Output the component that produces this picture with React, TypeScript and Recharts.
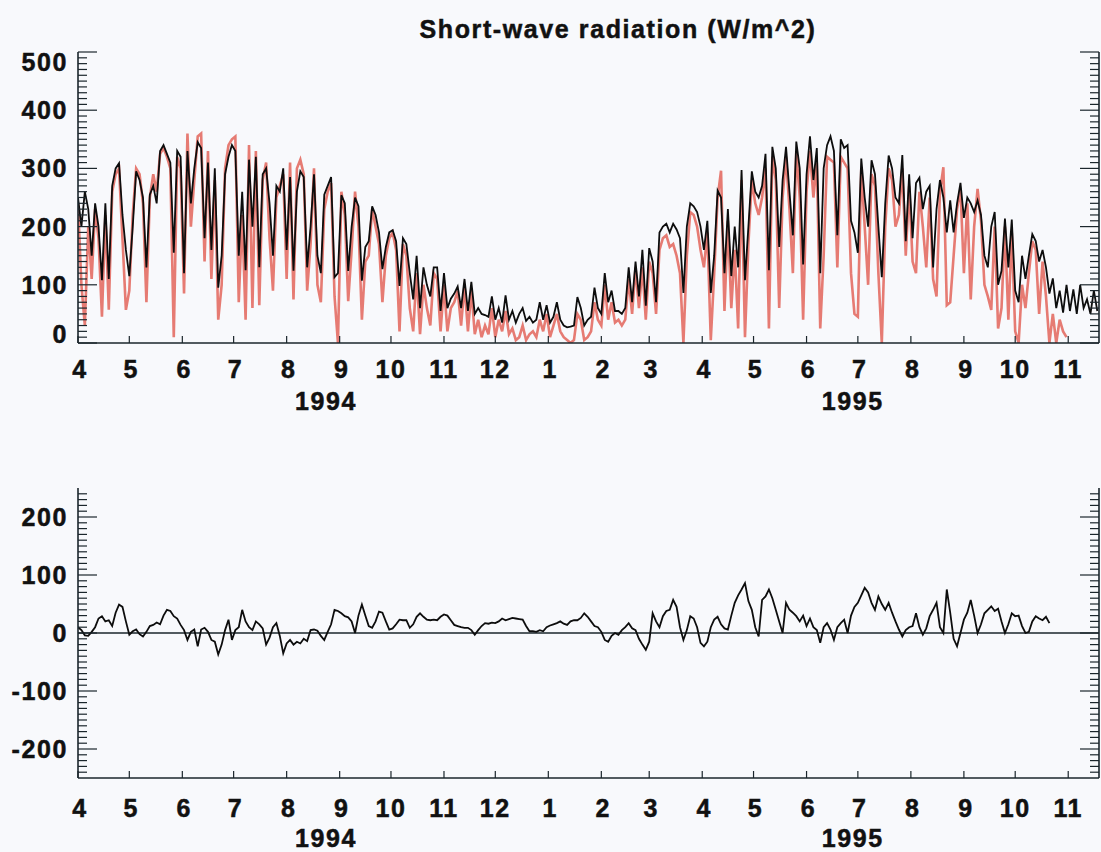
import React from 'react';
import { LineChart, Line, XAxis, YAxis, ReferenceLine } from 'recharts';

const FONT = '"Liberation Sans", Arial, Helvetica, sans-serif';
const INK = '#1b262c';
const TEXT = '#111111';
const BG = '#f8f9fc';

// one sample every 2 days, day 0 = 1 Apr 1994
const STEP = 2;
const LAST_DAY = 597;

const monthTicks = [0, 30, 61, 91, 122, 153, 183, 214, 244, 275, 306, 334, 365, 395, 426, 456, 487, 518, 548, 579];
const monthLabels = ['4', '5', '6', '7', '8', '9', '10', '11', '12', '1', '2', '3', '4', '5', '6', '7', '8', '9', '10', '11'];
const yearTicks = [145, 453];
const yearLabels = ['1994', '1995'];

const topMajor = [0, 100, 200, 300, 400, 500];
const bottomMajor = [-200, -100, 0, 100, 200];

// short-wave radiation, black curve (W/m^2)
const blackSW = [
  250, 200, 260, 230, 150, 240, 200, 108, 240, 110, 270, 300, 309, 220, 160,
  115, 200, 295, 280, 250, 130, 255, 270, 240, 330, 340, 325, 310, 155, 330,
  320, 120, 330, 240, 300, 345, 335, 180, 310, 160, 300, 95, 150, 290, 320,
  340, 330, 150, 260, 125, 315, 200, 320, 130, 290, 300, 240, 150, 270, 260,
  300, 160, 285, 124, 260, 295, 285, 130, 200, 290, 150, 120, 255, 270, 285,
  113, 120, 254, 240, 124, 200, 250, 235, 107, 165, 175, 235, 220, 190, 127,
  165, 190, 194, 175, 98, 180, 170, 120, 75, 150, 60, 130, 100, 80, 130,
  130, 55, 120, 60, 76, 85, 97, 60, 110, 55, 105, 50, 60, 50, 48,
  45, 80, 40, 60, 35, 82, 40, 55, 35, 50, 60, 38, 45, 35, 40,
  70, 40, 65, 35, 45, 70, 40, 30, 27, 28, 30, 79, 60, 30, 40,
  45, 95, 60, 50, 120, 70, 90, 55, 55, 50, 60, 130, 70, 140, 80,
  160, 64, 163, 140, 70, 190, 200, 205, 190, 205, 195, 180, 86, 200, 240,
  235, 225, 200, 160, 210, 86, 150, 262, 250, 120, 230, 115, 200, 130, 297,
  108, 200, 295, 260, 250, 270, 325, 125, 337, 300, 165, 280, 337, 260, 185,
  346, 300, 135, 290, 355, 280, 335, 120, 300, 340, 355, 330, 185, 350, 335,
  340, 210, 190, 155, 317, 250, 200, 314, 290, 200, 113, 240, 322, 300, 250,
  240, 323, 175, 290, 180, 275, 284, 230, 260, 270, 130, 230, 280, 250, 190,
  245, 190, 240, 275, 215, 250, 240, 225, 245, 220, 150, 130, 200, 225, 100,
  124, 214, 130, 212, 90, 70, 150, 110, 150, 187, 175, 140, 160, 130, 85,
  111, 60, 90, 52, 100, 55, 92, 50, 100, 60, 75, 50, 90, 55,
];

// short-wave radiation, red curve (W/m^2), ends late Oct 1995
const redSW = [
  240, 100, 30, 200, 110, 230, 180, 45, 220, 57, 260, 290, 300, 180, 57,
  90, 220, 300, 290, 240, 70, 250, 290, 260, 325, 335, 320, 300, 10, 320,
  300, 85, 360, 200, 280, 355, 360, 140, 330, 110, 280, 40, 100, 300, 340,
  350, 355, 70, 220, 40, 340, 60, 330, 65, 280, 310, 180, 90, 250, 270,
  290, 110, 310, 75, 300, 315, 290, 90, 170, 300, 100, 70, 230, 260, 275,
  80, 0, 260, 220, 72, 160, 260, 200, 40, 140, 150, 230, 200, 170, 70,
  150, 180, 190, 160, 20, 170, 150, 60, 20, 120, 15, 100, 60, 30, 120,
  110, 20, 100, 20, 60, 70, 90, 30, 100, 20, 90, 15, 40, 10, 30,
  15, 60, 10, 40, 20, 55, 15, 25, 5, 10, 30, 5, 15, 20, 10,
  40, 20, 50, 10, 30, 50, 20, 10, 5, 0, 5, 50, 40, 5, 10,
  20, 70, 40, 30, 100, 40, 70, 35, 40, 30, 40, 110, 50, 130, 60,
  130, 40, 140, 120, 50, 160, 180, 185, 165, 170, 150, 120, 0, 150, 225,
  220, 200, 160, 130, 190, 5, 120, 250, 296, 55, 210, 60, 160, 25, 280,
  10, 170, 280, 240, 220, 250, 300, 25, 320, 280, 60, 250, 320, 230, 120,
  330, 250, 40, 260, 330, 250, 310, 25, 150, 320, 315, 310, 130, 320, 310,
  300, 120, 50, 45, 300, 200, 100, 290, 270, 120, 0, 200, 300, 280, 200,
  220, 300, 150, 270, 140, 120, 260, 200, 130, 250, 110, 80, 260, 302, 65,
  70, 150, 230, 265, 120, 240, 75, 200, 265, 210, 100, 80, 57, 200, 25,
  60, 200, 40, 190, 20, 0, 100, 60, 120, 175, 160, 50, 140, 80, 0,
  50, 0, 40, 20, 10,
];

// difference curve, lower panel (W/m^2)
const diffSW = [
  10, 5, -4, -5, 2, 10, 25, 29, 20, 22, 12, 35, 49, 45, 20,
  -3, 3, 6, -2, -6, 2, 12, 14, 18, 15, 30, 40, 38, 29, 25,
  14, 5, -12, 2, 6, -23, 6, 9, 2, -12, -15, -37, -20, 5, 23,
  -12, 5, 10, 40, 20, 10, 5, 20, 15, 8, -20, -8, 10, 17, -5,
  -35, -18, -12, -20, -15, -18, -10, -14, 5, 6, 4, -5, -12, 2, 15,
  40, 38, 34, 29, 27, 20, 0, 30, 49, 30, 12, 9, 20, 37, 35,
  20, 6, 8, 15, 23, 22, 22, 9, 15, 28, 34, 28, 23, 22, 23,
  22, 28, 32, 30, 22, 14, 12, 10, 9, 9, 5, -3, 5, 12, 17,
  16, 18, 17, 20, 25, 22, 24, 26, 25, 24, 23, 12, 3, 3, 2,
  5, 3, 10, 13, 15, 17, 20, 16, 14, 20, 22, 22, 26, 34, 28,
  20, 12, 10, 2, -12, -15, -5, 0, -3, 5, 10, 17, 8, 5, -10,
  -20, -29, -15, 34, 20, 10, 29, 38, 40, 57, 45, 10, -12, 5, 29,
  25, 10, -17, -23, -15, 10, 23, 28, 15, 8, 6, 30, 52, 65, 75,
  86, 55, 40, 10, -6, 57, 63, 75, 60, 40, 20, 0, 52, 40, 35,
  29, 20, 30, 12, 25, 10, 5, -17, 10, 17, 6, -12, 10, 17, 23,
  0, 30, 45, 52, 65, 78, 70, 52, 40, 63, 50, 40, 52, 35, 20,
  6, -6, 5, 10, 12, 34, 10, -3, 8, 29, 40, 52, 10, 0, 75,
  35, -10, -23, 0, 23, 35, 57, 30, 0, 15, 34, 40, 46, 38, 42,
  20, 0, 15, 34, 29, 30, 12, 0, 2, 20, 29, 25, 22, 28, 17,
];

const topData = blackSW.map((v, i) => ({
  day: i * STEP,
  black: v,
  red: i < redSW.length ? redSW[i] : null,
}));
const bottomData = diffSW.map((v, i) => ({ day: i * STEP, diff: v }));

const WIDTH = 1101;
const LEFT = 78;
const RIGHT = 1099;

const labelStyle = {
  fontFamily: FONT,
  fontWeight: 700,
  fontSize: 25,
  letterSpacing: 1.6,
  fill: TEXT,
  stroke: TEXT,
  strokeWidth: 0.5,
};

// every 10 units inside the frame, plus the labelled ends
function axisTicks(lo: number, hi: number, majors: number[]) {
  const out: number[] = [];
  for (let v = lo; v <= hi; v += 10) {
    if ((v === lo || v === hi) && !majors.includes(v)) continue;
    out.push(v);
  }
  return out;
}

type Geom = { plotTop: number; plotBottom: number; monthY: number; yearY: number };

const makeYTick = (side: 'left' | 'right', g: Geom, majors: number[]) => (props: any) => {
  const { y, payload } = props;
  const v = payload.value;
  const major = majors.includes(v);
  const len = major ? 19 : 9;
  const x0 = side === 'left' ? LEFT : RIGHT;
  const x1 = side === 'left' ? LEFT + len : RIGHT - len;
  let ly = y;
  if (Math.abs(y - g.plotTop) < 3) ly = g.plotTop + 10;
  if (Math.abs(y - g.plotBottom) < 3) ly = g.plotBottom - 9;
  return (
    <g>
      <line x1={x0} x2={x1} y1={y} y2={y} stroke={INK} strokeWidth={1.2} />
      {major && side === 'left' && (
        <text x={LEFT - 10} y={ly} dy="0.36em" textAnchor="end" {...labelStyle}>
          {v}
        </text>
      )}
    </g>
  );
};

const makeMonthTick = (g: Geom) => (props: any) => {
  const { x, payload } = props;
  const label = monthLabels[monthTicks.indexOf(payload.value)] ?? '';
  return (
    <g>
      <line x1={x} x2={x} y1={g.plotBottom} y2={g.plotBottom - 7} stroke={INK} strokeWidth={1.2} />
      <text x={x + (label.length === 1 ? 2 : 0)} y={g.monthY} textAnchor="middle" {...labelStyle}>
        {label}
      </text>
    </g>
  );
};

const makeTopTick = (g: Geom) => (props: any) => (
  <line x1={props.x} x2={props.x} y1={g.plotTop} y2={g.plotTop + 7} stroke={INK} strokeWidth={1.2} />
);

const makeYearTick = (g: Geom) => (props: any) => {
  const { x, payload } = props;
  const label = yearLabels[yearTicks.indexOf(payload.value)] ?? '';
  return (
    <text x={x} y={g.yearY} textAnchor="middle" {...labelStyle}>
      {label}
    </text>
  );
};

type PanelProps = {
  height: number;
  geom: Geom;
  data: any[];
  domain: [number, number];
  majors: number[];
  children: React.ReactNode;
};

function Panel({ height, geom, data, domain, majors, children }: PanelProps) {
  const yTicks = axisTicks(domain[0], domain[1], majors);
  const axisLine = { stroke: INK, strokeWidth: 1.6 };
  const monthH = 35;
  const yearH = height - geom.plotBottom - monthH;
  return (
    <LineChart
      width={WIDTH}
      height={height}
      data={data}
      margin={{ top: geom.plotTop, right: WIDTH - RIGHT - 1, left: 0, bottom: 0 }}
    >
      <XAxis
        xAxisId="m"
        dataKey="day"
        type="number"
        domain={[0, LAST_DAY]}
        allowDataOverflow
        ticks={monthTicks}
        interval={0}
        tickLine={false}
        axisLine={axisLine}
        height={monthH}
        tick={makeMonthTick(geom)}
      />
      <XAxis
        xAxisId="yr"
        dataKey="day"
        type="number"
        domain={[0, LAST_DAY]}
        allowDataOverflow
        ticks={yearTicks}
        interval={0}
        tickLine={false}
        axisLine={false}
        height={yearH}
        tick={makeYearTick(geom)}
      />
      <XAxis
        xAxisId="top"
        orientation="top"
        dataKey="day"
        type="number"
        domain={[0, LAST_DAY]}
        allowDataOverflow
        ticks={monthTicks}
        interval={0}
        tickLine={false}
        axisLine={axisLine}
        height={0}
        tick={makeTopTick(geom)}
      />
      <YAxis
        yAxisId="l"
        type="number"
        domain={domain}
        allowDataOverflow
        ticks={yTicks}
        interval={0}
        width={LEFT}
        tickLine={false}
        axisLine={axisLine}
        tick={makeYTick('left', geom, majors)}
      />
      <YAxis
        yAxisId="r"
        orientation="right"
        type="number"
        domain={domain}
        allowDataOverflow
        ticks={yTicks}
        interval={0}
        width={1}
        tickLine={false}
        axisLine={axisLine}
        tick={makeYTick('right', geom, majors)}
      />
      {children}
    </LineChart>
  );
}

const topGeom: Geom = { plotTop: 52, plotBottom: 343, monthY: 378, yearY: 410 };
const bottomGeom: Geom = { plotTop: 58, plotBottom: 348, monthY: 387, yearY: 417 };

export default function App() {
  return (
    <div style={{ position: 'absolute', left: 0, top: 0, width: WIDTH, height: 852, background: BG, overflow: 'hidden' }}>
      <svg width={WIDTH} height={50} style={{ position: 'absolute', left: 0, top: 0 }}>
        <text x={618} y={38} textAnchor="middle" {...labelStyle}>
          Short-wave radiation (W/m^2)
        </text>
      </svg>
      <div style={{ position: 'absolute', left: 0, top: 0 }}>
        <Panel height={420} geom={topGeom} data={topData} domain={[0, 500]} majors={topMajor}>
          <Line
            xAxisId="m"
            yAxisId="l"
            type="linear"
            dataKey="red"
            stroke="#e0574c"
            strokeOpacity={0.78}
            strokeWidth={2.6}
            dot={false}
            isAnimationActive={false}
          />
          <Line
            xAxisId="m"
            yAxisId="l"
            type="linear"
            dataKey="black"
            stroke="#0d0d0d"
            strokeWidth={1.8}
            dot={false}
            isAnimationActive={false}
          />
        </Panel>
      </div>
      <div style={{ position: 'absolute', left: 0, top: 430 }}>
        <Panel height={422} geom={bottomGeom} data={bottomData} domain={[-250, 250]} majors={bottomMajor}>
          <ReferenceLine xAxisId="m" yAxisId="l" y={0} stroke={INK} strokeWidth={1.3} />
          <Line
            xAxisId="m"
            yAxisId="l"
            type="linear"
            dataKey="diff"
            stroke="#0d0d0d"
            strokeWidth={1.8}
            dot={false}
            isAnimationActive={false}
          />
        </Panel>
      </div>
    </div>
  );
}
